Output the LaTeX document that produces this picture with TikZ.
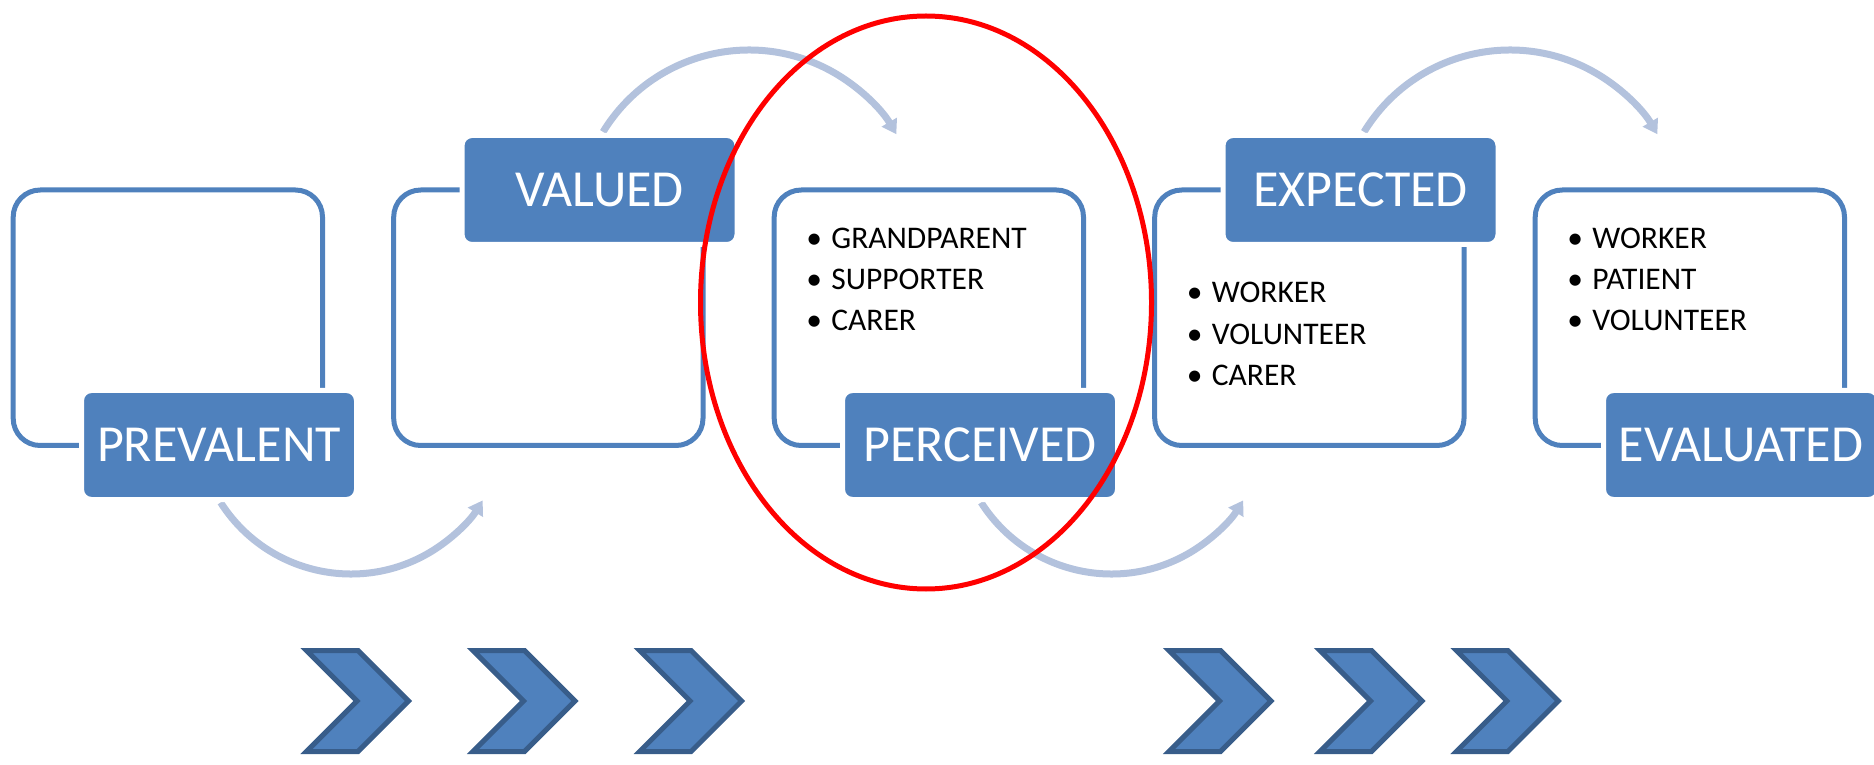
\documentclass[tikz,border=0pt]{standalone}
\usepackage{fontspec}
\setmainfont{Carlito}
\usetikzlibrary{arrows.meta}
\definecolor{obl}{RGB}{79,129,189}
\definecolor{chevb}{RGB}{56,93,138}
\definecolor{arcc}{RGB}{179,194,221}
\tikzset{
  outlinebox/.style={draw=obl, line width=5pt, rounded corners=27pt, minimum width=309.3pt, minimum height=255.5pt, inner sep=0pt},
  lab/.style={fill=obl, draw=white, line width=5pt, rounded corners=10pt, minimum width=275pt, minimum height=109pt, inner sep=0pt, text=white, font=\fontsize{52}{62}\selectfont},
  item/.style={anchor=base west, inner sep=0pt, font=\fontsize{31.5}{38}\selectfont, text=black},
  cyc/.style={draw=arcc, line width=7pt, -{Triangle[width=17pt,length=14pt]}},
  chev/.style={fill=obl, draw=chevb, line width=5pt, line join=miter},
  ring/.style={draw=red, line width=5pt}
}
\newcommand{\bul}[1]{\makebox[25pt][l]{•}#1}
\begin{document}
\begin{tikzpicture}[x=1pt,y=1pt]
\useasboundingbox (0,0) rectangle (1874,764);
% outline boxes
\node[outlinebox] (box1) at (167.85,446.25) {};
\node[outlinebox] (box2) at (548.35,446.25) {};
\node[outlinebox] (box3) at (928.85,446.25) {};
\node[outlinebox] (box4) at (1309.35,446.25) {};
\node[outlinebox] (box5) at (1689.85,446.25) {};
% cycle arcs
\coordinate (c1) at (351,344.6);
\coordinate (c2) at (749,543);
\coordinate (c3) at (1111.5,344.6);
\coordinate (c4) at (1510,543);
\draw[cyc] ([shift={(212.5:154.6pt)}]c1) arc[start angle=212.5, end angle=328.4, radius=154.6pt];
\draw[cyc] ([shift={(212.5:154.6pt)}]c3) arc[start angle=212.5, end angle=328.4, radius=154.6pt];
\draw[cyc] ([shift={(148.6:171pt)}]c2) arc[start angle=148.6, end angle=30.5, radius=171pt];
\draw[cyc] ([shift={(148.6:171pt)}]c4) arc[start angle=148.6, end angle=30.5, radius=171pt];
% labels
\node[lab] (l1) at (219,319) {PREVALENT};
\node[lab] (l2) at (599.5,574) {VALUED};
\node[lab] (l3) at (980,319) {PERCEIVED};
\node[lab] (l4) at (1360.5,574) {EXPECTED};
\node[lab] (l5) at (1741,319) {EVALUATED};
% lists
\node[item] (t31) at (806.2,515) {\bul{GRANDPARENT}};
\node[item] (t32) at (806.2,474.5) {\bul{SUPPORTER}};
\node[item] (t33) at (806.2,433) {\bul{CARER}};
\node[item] (t41) at (1186.7,461) {\bul{WORKER}};
\node[item] (t42) at (1186.7,419.5) {\bul{VOLUNTEER}};
\node[item] (t43) at (1186.7,378) {\bul{CARER}};
\node[item] (t51) at (1567.2,515) {\bul{WORKER}};
\node[item] (t52) at (1567.2,474.5) {\bul{PATIENT}};
\node[item] (t53) at (1567.2,433) {\bul{VOLUNTEER}};
% chevrons
\foreach \x in {306.5,473,639.7,1169,1320,1456.4}{
  \draw[chev] (\x,113.5) -- ++(51.5,0) -- ++(50.5,-50.5) -- ++(-50.5,-50.5) -- ++(-51.5,0) -- ++(50.5,50.5) -- cycle;
}
% red ellipse
\draw[ring] (926,461.5) ellipse[x radius=225.5pt, y radius=286.5pt];
\end{tikzpicture}
\end{document}
